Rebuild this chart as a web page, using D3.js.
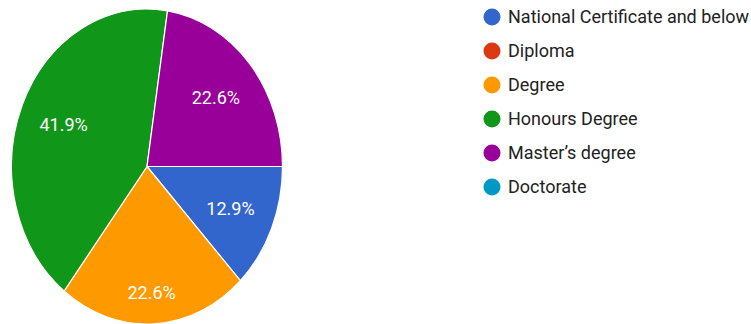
<!DOCTYPE html>
<html>
<head>
<meta charset="utf-8">
<script src="https://cdn.jsdelivr.net/npm/d3@7"></script>
<style>
  body { margin: 0; background: #fff; }
  .slice-label { font-family: Roboto, "Liberation Sans", Arial, sans-serif; font-size: 18px; fill: #fff; }
  .legend-label { font-family: Roboto, "Liberation Sans", Arial, sans-serif; font-size: 18px; fill: #222; }
</style>
</head>
<body>
<div id="chart"></div>
<script>
const categories = ["National Certificate and below", "Diploma", "Degree", "Honours Degree", "Master\u2019s degree", "Doctorate"];
const counts = [4, 0, 7, 13, 7, 0]; // 31 responses
const colors = ["#3366cc", "#dc3912", "#ff9900", "#109618", "#990099", "#0099c6"];

const width = 751;
const height = 324;

// pie is squashed a bit in the screenshot, so draw a circle and stretch it
const cx = 147, cy = 166.5;
const rx = 135.5, ry = 157.5;

const svg = d3.select("#chart")
    .append("svg")
    .attr("width", width)
    .attr("height", height);

const data = categories.map((c, i) => ({ name: c, value: counts[i], color: colors[i] }));
const total = d3.sum(counts);

const pie = d3.pie()
    .value(d => d.value)
    .sort(null)
    .startAngle(Math.PI / 2)
    .endAngle(Math.PI / 2 + 2 * Math.PI);

const arcs = pie(data).filter(d => d.data.value > 0);

const arc = d3.arc()
    .innerRadius(0)
    .outerRadius(rx);

const pieGroup = svg.append("g")
    .attr("transform", `translate(${cx}, ${cy}) scale(1, ${ry / rx})`);

pieGroup.selectAll("path")
    .data(arcs)
    .join("path")
    .attr("d", arc)
    .attr("fill", d => d.data.color)
    .attr("stroke", "#fff")
    .attr("stroke-width", 1.2)
    .attr("vector-effect", "non-scaling-stroke");

// labels - bottom slice label sits further out like in google charts
svg.append("g")
    .selectAll("text")
    .data(arcs)
    .join("text")
    .attr("class", "slice-label")
    .attr("text-anchor", "middle")
    .attr("dominant-baseline", "central")
    .attr("x", d => {
        const mid = (d.startAngle + d.endAngle) / 2;
        return cx + Math.sin(mid) * rx * 0.67;
    })
    .attr("y", d => {
        const mid = (d.startAngle + d.endAngle) / 2;
        const k = Math.abs(((mid % (2 * Math.PI)) - Math.PI)) < Math.PI / 6 ? 0.8 : 0.67;
        return cy - Math.cos(mid) * ry * k;
    })
    .text(d => d3.format(".1%")(d.data.value / total));

// legend
const legendY = d3.scalePoint()
    .domain(categories)
    .range([17, 187]);

const legend = svg.append("g")
    .attr("transform", "translate(492, 0)");

const rows = legend.selectAll("g")
    .data(data)
    .join("g")
    .attr("transform", d => `translate(0, ${legendY(d.name)})`);

rows.append("circle")
    .attr("r", 8.5)
    .attr("fill", d => d.color);

rows.append("text")
    .attr("class", "legend-label")
    .attr("x", 16)
    .attr("dy", "0.36em")
    .text(d => d.name);
</script>
</body>
</html>
